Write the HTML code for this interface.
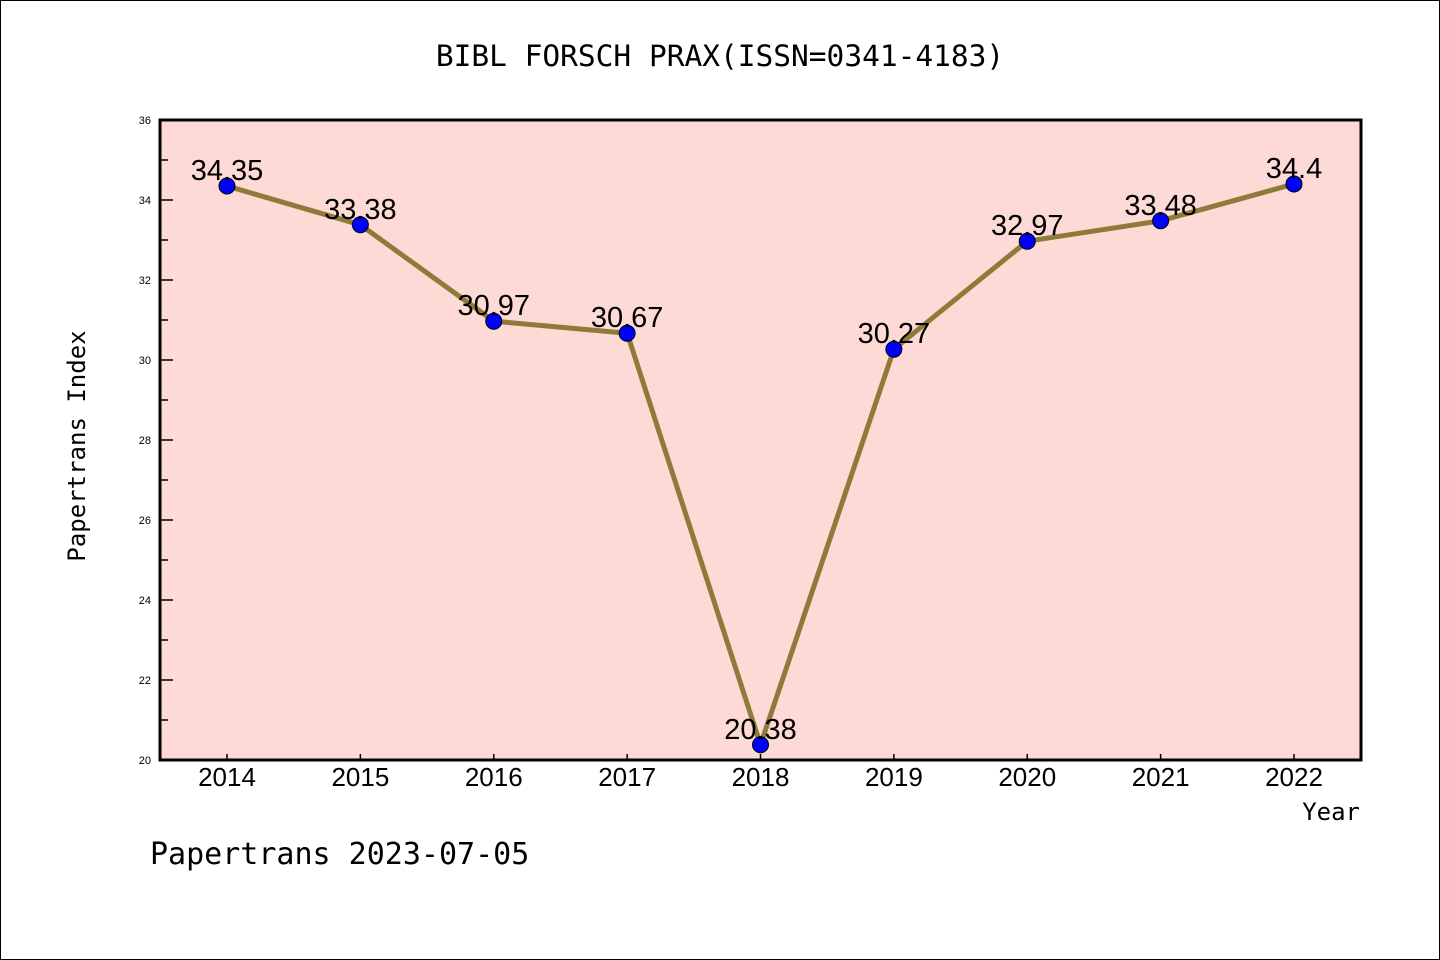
<!DOCTYPE html>
<html><head><meta charset="utf-8"><style>
body{margin:0;background:#fff}
svg{display:block;font-family:"Liberation Sans","WenQuanYi Zen Hei",sans-serif}
</style></head><body>
<svg width="1440" height="960">
<rect x="0.5" y="0.5" width="1439" height="959" fill="#fff" stroke="#000"/>
<text x="720" y="66" font-size="29.5" text-anchor="middle" font-family="'WenQuanYi Zen Hei',monospace">BIBL FORSCH PRAX(ISSN=0341-4183)</text>
<rect x="160" y="120" width="1201" height="640" fill="#fddad6"/>
<g id="axes"></g>
<g id="marks"></g>
<rect x="160" y="120" width="1201" height="640" fill="none" stroke="#000" stroke-width="3"/>
<text x="85" y="446" font-size="24" text-anchor="middle" transform="rotate(-90 85 446)" font-family="'WenQuanYi Zen Hei',monospace">Papertrans Index</text>
<text x="1360" y="820" font-size="24" text-anchor="end" font-family="'WenQuanYi Zen Hei',monospace">Year</text>
<text x="150" y="864" font-size="30" font-family="'WenQuanYi Zen Hei',monospace">Papertrans 2023-07-05</text>
</svg>
<script>
const years=["2014","2015","2016","2017","2018","2019","2020","2021","2022"];
const values=[34.35,33.38,30.97,30.67,20.38,30.27,32.97,33.48,34.4];
const labels=["34.35","33.38","30.97","30.67","20.38","30.27","32.97","33.48","34.4"];
const yTicks=[20,22,24,26,28,30,32,34,36];
const NS="http://www.w3.org/2000/svg";
function x(i){return 227+i*(1294-227)/(years.length-1);}
function y(v){return 760-(v-20)*40;}
function mk(t,a,p){const e=document.createElementNS(NS,t);for(const k in a)e.setAttribute(k,a[k]);p.appendChild(e);return e;}
const ax=document.getElementById('axes'),mg=document.getElementById('marks');
for(let v=20;v<=36;v++){
 const l=mk('line',{x1:160,x2:v%2?168:173,y1:y(v),y2:y(v),stroke:'#000','stroke-width':1.5},ax);
 
 
}
yTicks.forEach(v=>{
 const t=mk('text',{x:151,y:y(v)+4,'font-size':11,'text-anchor':'end'},ax);t.textContent=v;
 
 
});
years.forEach((yr,i)=>{
 const l=mk('line',{x1:x(i),x2:x(i),y1:760,y2:754,stroke:'#000','stroke-width':1.5},ax);
 
 
 const t=mk('text',{x:x(i),y:786,'font-size':26,'text-anchor':'middle'},ax);t.textContent=yr;
 
 
});
const pl=mk('polyline',{points:values.map((v,i)=>x(i)+','+y(v)).join(' '),fill:'none',stroke:'#8e7b3a','stroke-width':5},mg);


values.forEach((v,i)=>{
 const c=mk('circle',{cx:x(i),cy:y(v),r:8,fill:'#0000ff',stroke:'#000','stroke-width':1},mg);
 
 
 const t=mk('text',{x:x(i),y:y(v)-6,'font-size':29,'text-anchor':'middle'},mg);t.textContent=labels[i];
 
 
});
</script>
</body></html>
